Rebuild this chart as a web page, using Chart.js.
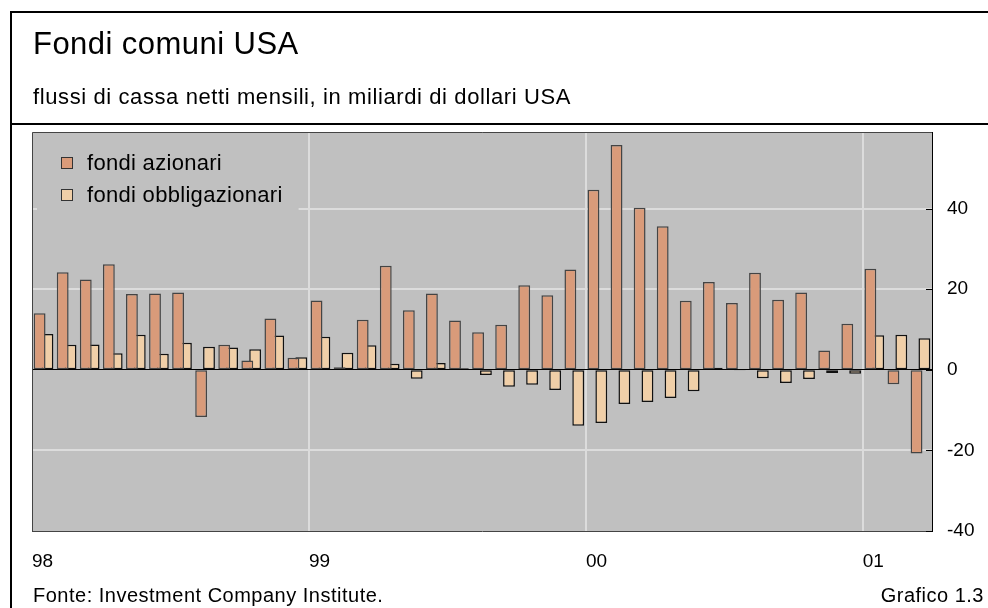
<!DOCTYPE html>
<html>
<head>
<meta charset="utf-8">
<script src="https://cdn.jsdelivr.net/npm/chart.js@4.4.1/dist/chart.umd.min.js"></script>
<style>
  body { margin: 0; background: #fff; font-family: "Liberation Sans", Arial, sans-serif; }
  #wrap { position: relative; width: 988px; height: 608px; overflow: hidden; }
  #chart { position: absolute; left: 0; top: 0; }
  .frame { position: absolute; left: 10px; top: 11px; width: 990px; height: 600px;
           border-left: 2px solid #000; border-top: 2px solid #000; }
  .divider { position: absolute; left: 10px; top: 123px; width: 990px; height: 2px; background: #000; }
  .txt { position: absolute; color: #000; white-space: nowrap; line-height: 1; }
  #title { left: 33px; top: 28px; font-size: 31px; letter-spacing: 0.45px; }
  #subtitle { left: 33px; top: 86px; font-size: 22px; letter-spacing: 0.6px; }
  #source { left: 33px; top: 585px; font-size: 20px; letter-spacing: 0.5px; }
  #number { right: 4px; top: 585px; font-size: 20px; letter-spacing: 0.5px; }
</style>
</head>
<body>
<div id="wrap">
  <canvas id="chart" width="988" height="608"></canvas>
  <div class="frame"></div>
  <div class="divider"></div>
  <div class="txt" id="title">Fondi comuni USA</div>
  <div class="txt" id="subtitle">flussi di cassa netti mensili, in miliardi di dollari USA</div>
  <div class="txt" id="source">Fonte: Investment Company Institute.</div>
  <div class="txt" id="number">Grafico 1.3</div>
</div>
<script>
// months jan 1998 - mar 2001
const months = [
  "1998-01", "1998-02", "1998-03", "1998-04", "1998-05", "1998-06",
  "1998-07", "1998-08", "1998-09", "1998-10", "1998-11", "1998-12",
  "1999-01", "1999-02", "1999-03", "1999-04", "1999-05", "1999-06",
  "1999-07", "1999-08", "1999-09", "1999-10", "1999-11", "1999-12",
  "2000-01", "2000-02", "2000-03", "2000-04", "2000-05", "2000-06",
  "2000-07", "2000-08", "2000-09", "2000-10", "2000-11", "2000-12",
  "2001-01", "2001-02", "2001-03",
];
const yearTicks = ["98", "99", "00", "01"];

const fondiAzionari = [
  14.0, 24.2, 22.4, 26.2, 18.8, 18.9, 19.2, -11.7, 6.2, 2.3, 12.7, 3.0,
  17.2, 0.6, 12.4, 25.8, 14.8, 18.9, 12.2, 9.3, 11.2, 21.0, 18.5, 24.9,
  44.7, 55.8, 40.2, 35.6, 17.1, 21.8, 16.6, 24.1, 17.4, 19.2, 4.8, 11.4,
  25.1, -3.6, -20.8,
];
const fondiObbligazionari = [
  8.9, 6.2, 6.3, 4.1, 8.7, 4.0, 6.7, 5.7, 5.5, 5.1, 8.5, 3.1,
  8.2, 4.2, 6.1, 1.5, -2.2, 1.7, 0.4, -1.3, -4.2, -3.7, -5.0, -13.9,
  -13.2, -8.5, -8.0, -7.0, -5.3, 0.5, -0.2, -2.1, -3.3, -2.3, -0.8, -1.0,
  8.6, 8.7, 7.8,
];

const FONT = "'Liberation Sans', Arial, sans-serif";
const PLOT_BG = "#c0c0c0";
const GRID = "#dcdcdc";

// grey plot background, frame, inner ticks and the boxed legend
const plotFrame = {
  id: "plotFrame",
  beforeDraw(chart) {
    const { ctx, chartArea: a } = chart;
    ctx.save();
    ctx.fillStyle = PLOT_BG;
    ctx.fillRect(a.left, a.top, a.right - a.left, a.bottom - a.top);
    ctx.restore();
  },
  afterDatasetsDraw(chart) {
    const { ctx, chartArea: a } = chart;
    const x0 = a.left + 29, y0 = a.top + 25, rowH = 32, sw = 12;
    ctx.save();
    ctx.font = "22px " + FONT;
    ctx.letterSpacing = "0.3px";
    const sets = chart.data.datasets;
    const textW = Math.max(...sets.map((d) => ctx.measureText(d.label).width));
    ctx.fillStyle = PLOT_BG;
    ctx.fillRect(x0 - 24, y0 - 16, sw + 14 + textW + 40, rowH * sets.length + 11);
    sets.forEach((d, i) => {
      const y = y0 + i * rowH;
      ctx.fillStyle = d.backgroundColor;
      ctx.fillRect(x0, y, sw, sw);
      ctx.strokeStyle = "#333";
      ctx.lineWidth = 1;
      ctx.strokeRect(x0 + 0.5, y + 0.5, sw - 1, sw - 1);
      ctx.fillStyle = "#000";
      ctx.textBaseline = "middle";
      ctx.fillText(d.label, x0 + sw + 14, y + sw / 2 + 1);
    });
    ctx.restore();
  },
  afterDraw(chart) {
    const { ctx, chartArea: a } = chart;
    const y = chart.scales.y;
    ctx.save();
    ctx.strokeStyle = "#444";
    ctx.lineWidth = 1;
    ctx.beginPath();
    ctx.moveTo(a.left + 0.5, a.bottom);
    ctx.lineTo(a.left + 0.5, a.top + 0.5);
    ctx.lineTo(a.right, a.top + 0.5);
    ctx.stroke();
    ctx.strokeStyle = "#000";
    ctx.beginPath();
    y.ticks.forEach((t) => {
      const py = Math.round(y.getPixelForValue(t.value)) + 0.5;
      ctx.moveTo(a.right - 6, py);
      ctx.lineTo(a.right, py);
    });
    ctx.stroke();
    ctx.restore();
  },
};

new Chart(document.getElementById("chart"), {
  type: "bar",
  data: {
    labels: months,
    datasets: [
      {
        label: "fondi azionari",
        data: fondiAzionari,
        backgroundColor: "#d99b7a",
        borderColor: "#444",
        borderWidth: 1.5,
        borderSkipped: false,
        categoryPercentage: 0.68,
        barPercentage: 1.51,
      },
      {
        label: "fondi obbligazionari",
        data: fondiObbligazionari,
        backgroundColor: "#f0cfa8",
        borderColor: "#111",
        borderWidth: 1.5,
        borderSkipped: false,
        categoryPercentage: 0.68,
        barPercentage: 1.51,
      },
    ],
  },
  options: {
    responsive: false,
    animation: false,
    layout: { padding: { left: 32, top: 132, right: 0, bottom: 0 } },
    plugins: { legend: { display: false }, tooltip: { enabled: false } },
    scales: {
      x: {
        offset: true,
        afterFit: (s) => { s.height = 77; },
        grid: {
          offset: true,
          drawTicks: false,
          lineWidth: 2,
          color: (c) => (c.index > 0 && c.index % 12 === 0 ? GRID : "transparent"),
        },
        border: { display: true, color: "#444", width: 1 },
        ticks: {
          autoSkip: false,
          maxRotation: 0,
          align: "start",
          labelOffset: -11.5,
          padding: 19,
          color: "#000",
          font: { family: FONT, size: 19 },
          callback: (v, i) => (i % 12 === 0 ? yearTicks[i / 12] : ""),
        },
      },
      y: {
        position: "right",
        min: -40,
        max: 59,
        afterFit: (s) => { s.width = 56; },
        afterBuildTicks: (s) => { s.ticks = s.ticks.filter((t) => t.value % 20 === 0); },
        grid: {
          drawTicks: false,
          lineWidth: (c) => (c.tick && c.tick.value === 0 ? 1 : 2),
          color: (c) => {
            if (!c.tick) return "transparent";
            if (c.tick.value === 0) return "#000";
            if (c.tick.value === -40) return "transparent";
            return GRID;
          },
        },
        border: { display: true, color: "#000", width: 1 },
        ticks: {
          stepSize: 20,
          padding: 15,
          color: "#000",
          font: { family: FONT, size: 19 },
        },
      },
    },
  },
  plugins: [plotFrame],
});
</script>
</body>
</html>
